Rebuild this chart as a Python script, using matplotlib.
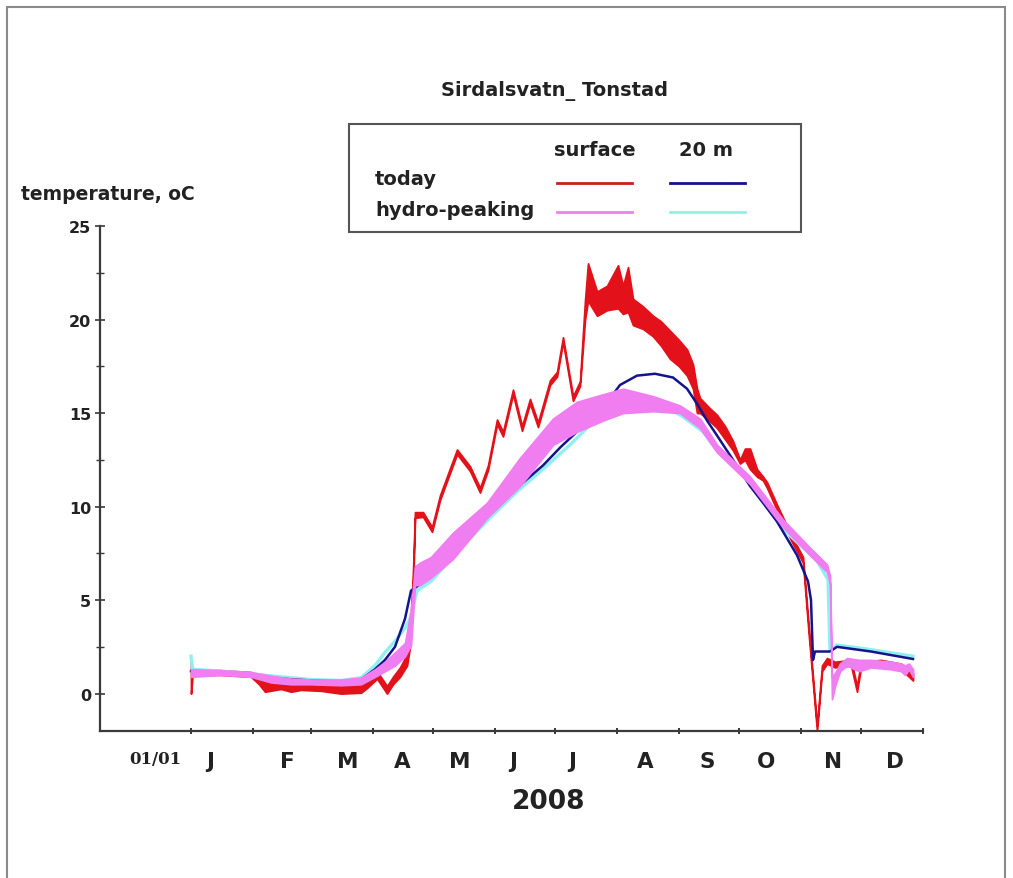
import numpy as np
import matplotlib
matplotlib.use("Agg")
import matplotlib.pyplot as plt
from matplotlib.patches import Rectangle
from matplotlib.lines import Line2D
import matplotlib.transforms as mtransforms

W, H = 1013, 879

# ---------- data (day of year 2008, temperature degC) ----------
# today, surface (noisy band: lower / upper edge)
red_day = [0, 0.8, 15, 30, 34, 37, 45, 50, 55, 65, 75, 85, 88, 93, 98, 101, 104.5, 108,
           109.5, 111, 112, 116, 120.5, 124.5, 129, 133, 139.5, 144.5, 148.5, 153, 156,
           161, 165.5, 169.5, 173.5, 179.5, 183, 186, 191, 194.5, 197, 198.5, 203, 208,
           213.5, 216, 218.5, 221, 226, 231, 235, 239.5, 244, 248, 251, 253, 254.5, 259,
           263, 267, 271, 274.5, 277, 279.5, 283, 286, 288, 293, 300, 306, 309, 313,
           315.5, 318, 322, 330, 333, 335, 345, 355, 358, 361]
red_lo = [0.0, 1.0, 1.0, 0.9, 0.5, 0.1, 0.25, 0.1, 0.2, 0.15, 0.0, 0.05, 0.3, 0.8, 0.0,
          0.5, 0.9, 1.5, 2.5, 5.5, 9.4, 9.45, 8.65, 10.35, 11.65, 12.8, 11.9, 10.75, 11.95,
          14.4, 13.75, 16.0, 14.05, 15.5, 14.25, 16.5, 16.95, 18.8, 15.65, 16.45, 20.0,
          21.0, 20.2, 20.5, 20.6, 20.3, 20.4, 19.7, 19.5, 19.1, 18.6, 17.9, 17.5, 17.0,
          16.3, 15.0, 15.0, 14.6, 14.2, 13.6, 13.0, 12.3, 12.5, 12.0, 11.6, 11.4, 11.0,
          9.8, 8.2, 7.0, 3.0, -2.0, 1.2, 1.6, 1.4, 1.5, 0.1, 1.4, 1.5, 1.3, 1.0, 0.7]
red_hi = [1.7, 1.3, 1.25, 1.15, 0.9, 0.6, 0.6, 0.45, 0.55, 0.5, 0.4, 0.5, 0.7, 1.2, 0.4,
          0.9, 1.4, 2.1, 3.4, 6.5, 9.7, 9.7, 8.9, 10.6, 11.9, 13.05, 12.15, 11.0, 12.2,
          14.65, 14.0, 16.25, 14.3, 15.75, 14.5, 16.75, 17.2, 19.05, 15.9, 16.7, 21.0,
          23.0, 21.5, 21.8, 22.9, 21.8, 22.8, 21.1, 20.7, 20.2, 19.9, 19.4, 18.9, 18.4,
          17.6, 16.3, 15.8, 15.3, 14.9, 14.3, 13.5, 12.5, 13.1, 13.1, 12.0, 11.6, 11.3,
          10.1, 8.5, 7.3, 3.4, -1.7, 1.5, 1.9, 1.7, 1.8, 0.4, 1.7, 1.8, 1.6, 1.4, 1.1]

# today, 20 m
blue_day = [0, 15, 30, 45, 60, 75, 85, 92, 97, 102, 107, 110, 114, 120, 135, 149.5, 163,
            176, 185, 193, 201, 207, 211, 214.5, 223, 232, 241, 248, 253, 258, 263, 271,
            279.5, 286, 293, 303, 308.5, 310, 311, 312, 319.5, 323, 340, 361]
blue_t = [1.2, 1.1, 0.95, 0.8, 0.7, 0.65, 0.75, 1.3, 1.8, 2.5, 4.0, 5.5, 5.8, 6.5, 8.3,
          9.7, 11.0, 12.2, 13.2, 14.0, 14.7, 15.3, 16.0, 16.5, 17.0, 17.1, 16.9, 16.3,
          15.5, 14.6, 13.8, 12.5, 11.1, 10.2, 9.2, 7.4, 6.0, 5.0, 1.8, 2.25, 2.25, 2.5,
          2.25, 1.85]

# hydro-peaking, surface (band)
pink_day = [0, 15, 30, 40, 50, 60, 75, 85, 92, 97, 102, 107, 110, 112, 114.5, 120, 131,
            148, 164.5, 181, 193, 206, 216, 231, 244.5, 254.5, 263, 279.5, 296, 309.5,
            318, 319.5, 320.5, 322, 324.5, 328, 334, 340, 350, 355, 357, 359, 361]
pink_lo = [0.9, 1.0, 0.9, 0.6, 0.5, 0.5, 0.45, 0.5, 0.9, 1.2, 1.5, 2.0, 2.6, 5.8, 5.8,
           6.2, 7.2, 9.4, 11.1, 13.3, 14.0, 14.6, 15.0, 15.1, 15.0, 14.2, 12.9, 11.2, 8.9,
           7.4, 6.5, 5.9, -0.3, 0.4, 1.2, 1.5, 1.2, 1.4, 1.3, 1.2, 1.0, 1.3, 0.9]
pink_hi = [1.3, 1.25, 1.15, 0.95, 0.8, 0.75, 0.75, 0.85, 1.3, 1.7, 2.2, 2.7, 4.5, 6.8,
           7.0, 7.3, 8.6, 10.2, 12.6, 14.7, 15.6, 16.0, 16.3, 15.9, 15.4, 14.7, 13.3, 11.6,
           9.3, 7.8, 6.9, 6.3, 0.9, 1.1, 1.6, 1.9, 1.8, 1.8, 1.7, 1.6, 1.5, 1.6, 1.3]

# hydro-peaking, 20 m
cyan_day = [0, 0.8, 15, 30, 45, 60, 75, 85, 92, 97, 102, 107, 109.5, 113, 120, 135, 149.5,
            163, 176, 189.5, 198, 206, 214.5, 231, 238, 246, 256, 263, 279.5, 296, 308,
            313, 318.5, 319.5, 323, 340, 361]
cyan_t = [2.0, 1.3, 1.2, 1.05, 0.9, 0.75, 0.7, 0.85, 1.5, 2.2, 2.8, 3.5, 4.0, 5.5, 6.0,
          7.8, 9.4, 10.8, 12.0, 13.3, 14.2, 14.9, 15.3, 15.4, 15.3, 14.8, 14.0, 13.0, 11.3,
          8.8, 7.6, 7.1, 6.1, 2.3, 2.6, 2.35, 2.0]

month_starts = [0, 31, 60, 91, 121, 152, 182, 213, 244, 274, 305, 335, 366]
month_labels = ["J", "F", "M", "A", "M", "J", "J", "A", "S", "O", "N", "D"]
month_label_day = [9.5, 48, 78.5, 105.5, 134.5, 161, 190.5, 227, 258, 287.5, 321, 352]

RED = "#e3121a"
BLUE = "#14148c"
PINK = "#f07ef0"
CYAN = "#8ff0f0"
TXT = "#222222"

fig = plt.figure(figsize=(W / 100, H / 100), dpi=100, facecolor="white")
ax = fig.add_axes([100 / W, 1 - 732 / H, 823 / W, 505 / H])

ax.fill_between(red_day, red_lo, red_hi, color=RED, ec=RED, lw=1.3, zorder=2)
ax.plot(cyan_day, cyan_t, color=CYAN, lw=2.4, zorder=3)
ax.plot(blue_day, blue_t, color=BLUE, lw=1.8, zorder=4)
ax.fill_between(pink_day, pink_lo, pink_hi, color=PINK, ec=PINK, lw=1.3, zorder=5)

ax.set_xlim(-45.5, 366)
ax.set_ylim(-2.0, 25)
for s in ["top", "right"]:
    ax.spines[s].set_visible(False)
for s in ["left", "bottom"]:
    ax.spines[s].set_color("#3a3a3a")
    ax.spines[s].set_linewidth(1.6)

ax.set_yticks([0, 5, 10, 15, 20, 25])
ax.set_yticks(np.arange(2.5, 25, 5), minor=True)
ax.set_xticks(month_starts, labels=[])
ax.tick_params(axis="y", which="major", direction="inout", length=7, width=1.2,
               colors="#3a3a3a", labelcolor=TXT, labelsize=11.5, pad=3)
ax.tick_params(axis="y", which="minor", direction="inout", length=6, width=1.0,
               colors="#3a3a3a")
ax.tick_params(axis="x", which="major", direction="inout", length=5, width=1.4,
               colors="#3a3a3a")
for lab in ax.get_yticklabels():
    lab.set_fontweight("bold")

trans = mtransforms.blended_transform_factory(ax.transData, ax.transAxes)
for m, lab in zip(month_label_day, month_labels):
    ax.text(m, -30 / 505, lab, transform=trans, ha="center", va="center",
            fontsize=15.5, fontweight="bold", color=TXT)
ax.text(-18, -28 / 505, "01/01", transform=trans, ha="center", va="center",
        fontsize=12, fontweight="bold", family="DejaVu Serif", color=TXT)


def fx(px):
    return px / W


def fy(py):
    return 1 - py / H


fig.text(fx(549), fy(802), "2008", ha="center", va="center", fontsize=19,
         fontweight="bold", color=TXT)
fig.text(fx(554), fy(91), "Sirdalsvatn_ Tonstad", ha="center", va="center",
         fontsize=14, fontweight="bold", color=TXT)
fig.text(fx(21), fy(195), "temperature, oC", ha="left", va="center", fontsize=13.5,
         fontweight="bold", color=TXT)

# legend box drawn by hand (two-column layout)
fig.add_artist(Rectangle((fx(349), fy(233)), (801 - 349) / W, (233 - 125) / H,
                         transform=fig.transFigure, fill=False, ec="#555", lw=1.5))
fig.text(fx(595), fy(150), "surface", ha="center", va="center", fontsize=14,
         fontweight="bold", color=TXT)
fig.text(fx(706), fy(150), "20 m", ha="center", va="center", fontsize=14,
         fontweight="bold", color=TXT)
fig.text(fx(375), fy(180), "today", ha="left", va="center", fontsize=14,
         fontweight="bold", color=TXT)
fig.text(fx(375), fy(211), "hydro-peaking", ha="left", va="center", fontsize=14,
         fontweight="bold", color=TXT)
for (x0, x1, yy, c) in [(557, 632, 184, "#c8201f"), (670, 745, 184, BLUE),
                        (557, 632, 213, PINK), (670, 745, 213, CYAN)]:
    fig.add_artist(Line2D([fx(x0), fx(x1)], [fy(yy), fy(yy)], transform=fig.transFigure,
                          color=c, lw=2.0))

# outer frame of the picture
fig.add_artist(Rectangle((fx(7), -0.05), (1005 - 7) / W, fy(8) + 0.05,
                         transform=fig.transFigure, fill=False, ec="#8a8a8a", lw=1.5))

fig.savefig("out.png", dpi=100, facecolor="white")
